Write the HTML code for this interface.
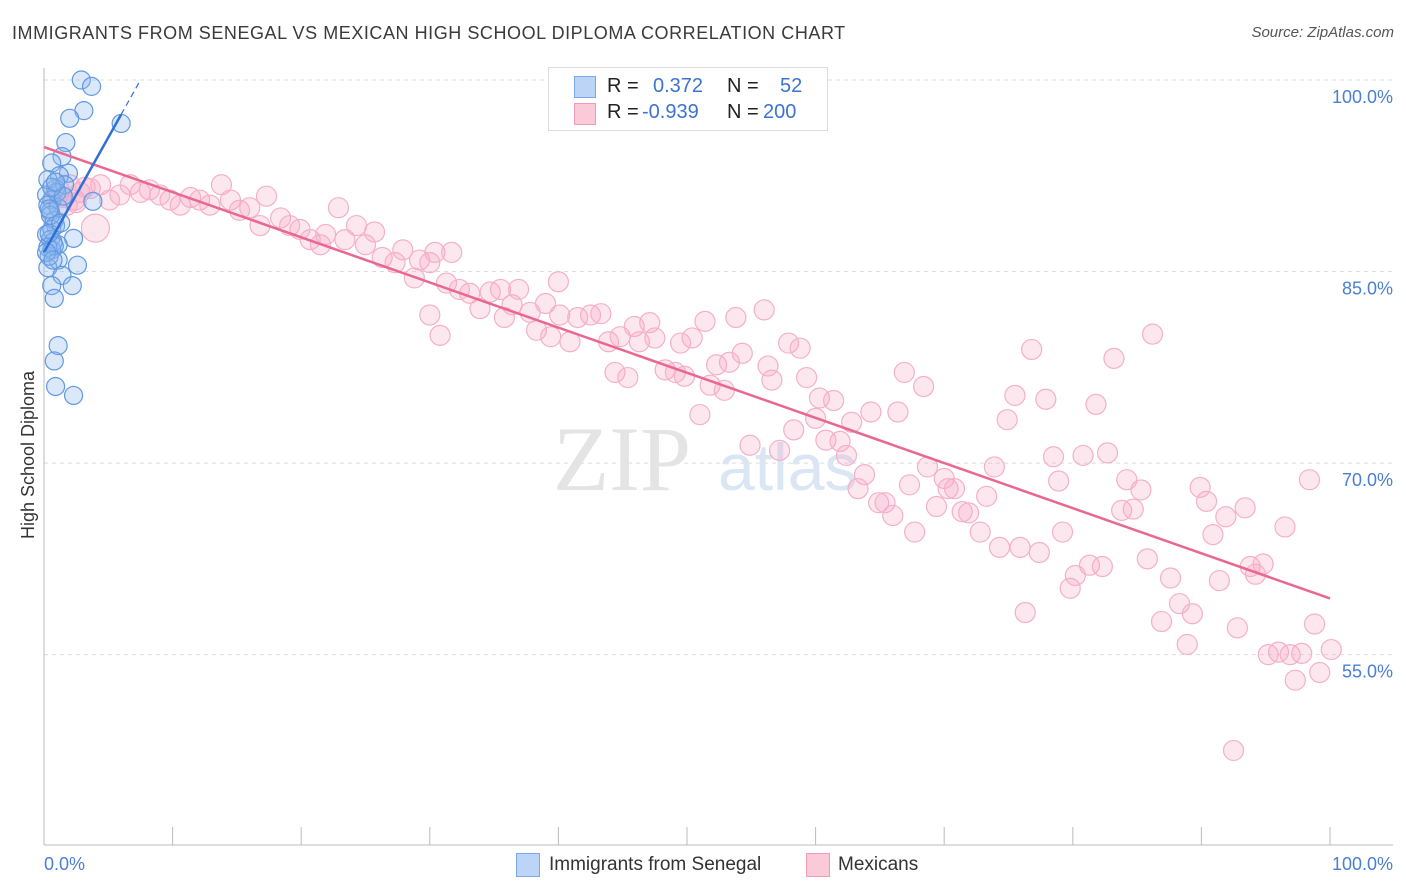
<!DOCTYPE html>
<html><head><meta charset="utf-8"><style>
body{margin:0;background:#fff;font-family:"Liberation Sans",sans-serif;}
#wrap{position:relative;width:1406px;height:892px;overflow:hidden;}
.t{position:absolute;white-space:nowrap;}
</style></head><body>
<div id="wrap">
<div class="t" style="left:12px;top:23px;font-size:18px;letter-spacing:0.55px;color:#3a3a3a;">IMMIGRANTS FROM SENEGAL VS MEXICAN HIGH SCHOOL DIPLOMA CORRELATION CHART</div>
<div class="t" style="right:12px;top:24px;font-size:15px;color:#555;font-style:italic;">Source: ZipAtlas.com</div>
<svg id="svg" width="1406" height="892" style="position:absolute;left:0;top:0"></svg>
</div>
<script>
const blueX=[2.9,3.7,3.1,2.0,6.0,1.7,1.4,0.6,1.9,1.2,0.9,0.2,0.6,3.8,0.3,0.5,0.8,0.9,0.6,0.2,2.3,0.5,1.1,0.6,1.1,2.6,0.3,1.4,2.2,0.6,0.8,1.1,0.8,0.9,2.3,1.6,1.1,0.3,0.4,0.7,1.0,0.5,0.3,0.8,1.5,0.4,0.6,0.2,1.3,0.7,0.9,0.4];
const blueY=[100.0,99.5,97.6,97.0,96.6,95.1,94.0,93.5,92.7,92.5,91.5,91.0,90.6,90.5,90.2,89.7,89.0,88.6,88.3,87.9,87.6,87.5,87.1,86.7,85.9,85.5,85.3,84.7,83.9,83.9,82.9,79.2,78.0,76.0,75.3,91.8,90.0,92.2,86.2,87.3,91.2,89.4,86.9,87.0,90.9,88.0,91.6,86.5,88.8,85.9,92.0,89.9];
const pinkX=[1.2,2.0,2.8,3.6,4.4,2.4,4.0,5.1,5.9,6.7,7.5,8.2,9.0,9.8,10.6,11.4,12.1,12.9,13.8,14.5,15.2,16.0,16.8,17.3,18.4,19.1,19.9,20.7,21.5,21.9,22.9,23.4,24.3,25.0,25.7,26.3,27.3,27.9,28.8,29.2,30.0,30.4,31.7,30.0,30.8,31.3,32.3,33.1,33.9,34.7,35.5,35.8,36.4,36.9,37.8,38.3,39.0,39.4,40.0,40.1,40.9,41.5,42.5,43.3,43.9,44.4,44.8,45.4,45.9,46.3,47.1,47.5,48.3,49.1,49.5,49.8,50.4,51.0,51.4,51.8,52.3,52.9,53.3,53.8,54.3,54.9,56.0,56.3,56.6,57.2,57.9,58.3,58.8,59.3,60.0,60.3,60.8,61.4,61.9,62.4,62.8,63.3,63.8,64.3,64.9,65.4,66.0,66.4,66.9,67.3,67.7,68.4,68.7,69.4,70.0,70.3,70.8,71.4,71.9,72.8,73.3,73.9,74.3,74.9,75.5,75.9,76.3,76.8,77.4,77.9,78.5,78.9,79.2,79.8,80.2,80.8,81.3,81.8,82.3,82.7,83.2,83.8,84.2,84.7,85.3,85.8,86.2,86.9,87.6,88.3,88.9,89.3,89.9,90.4,90.9,91.4,91.9,92.5,92.8,93.4,93.8,94.2,94.8,95.2,96.0,96.5,96.9,97.3,97.8,98.4,98.8,99.2,100.1,1.5,2.5,3.2,0.8,1.8];
const pinkY=[91.4,91.8,91.2,91.5,91.8,90.6,88.4,90.6,91.0,91.8,91.2,91.4,91.0,90.6,90.2,90.8,90.6,90.2,91.8,90.6,89.8,90.0,88.6,90.9,89.2,88.6,88.3,87.5,87.1,87.9,90.0,87.5,88.6,87.1,88.1,86.1,85.7,86.7,84.5,85.9,85.7,86.5,86.5,81.6,80.0,84.1,83.6,83.3,82.1,83.4,83.6,81.4,82.4,83.6,81.8,80.4,82.5,79.9,84.2,81.6,79.5,81.4,81.6,81.7,79.5,77.1,79.9,76.7,80.7,79.5,81.0,79.8,77.3,77.1,79.4,76.8,79.8,73.8,81.1,76.1,77.7,75.7,77.9,81.4,78.6,71.4,82.0,77.6,76.5,71.0,79.4,72.6,79.0,76.7,73.5,75.1,71.8,74.9,71.7,70.6,73.2,68.0,69.1,74.0,66.9,66.9,65.9,74.0,77.1,68.3,64.6,76.0,69.7,66.6,68.8,68.0,68.0,66.2,66.1,64.6,67.4,69.7,63.4,73.4,75.3,63.4,58.3,78.9,63.0,75.0,70.5,68.6,64.6,60.2,61.2,70.6,62.0,74.6,61.9,70.8,78.2,66.3,68.7,66.4,67.9,62.5,80.1,57.6,61.0,59.0,55.8,58.2,68.1,67.0,64.4,60.8,65.8,47.5,57.1,66.5,61.9,61.3,62.1,55.0,55.2,65.0,55.0,53.0,55.1,68.7,57.4,53.6,55.4,90.8,90.4,91.6,90.9,90.2];
const pinkBig=[6];
const yTicks=[100,85,70,55];
const xTickVals=[0,10,20,30,40,50,60,70,80,90,100];
const blueLine=[0,86.5,7.5,100];
const pinkLine=[0,94.75,100,59.4];

const X0=44,X1=1330,Y100=80,PPY=12.77;
const sx=v=>X0+(X1-X0)*v/100;
const sy=v=>Y100+(100-v)*PPY;
const svg=document.getElementById('svg');
const NS='http://www.w3.org/2000/svg';
function mk(tag,attrs){const e=document.createElementNS(NS,tag);for(const k in attrs)e.setAttribute(k,attrs[k]);svg.appendChild(e);return e;}

yTicks.forEach(v=>{
 const g=mk('line',{x1:44,x2:1393,y1:sy(v),y2:sy(v),stroke:'#dcdcdc','stroke-dasharray':'4,4'});
 
 
 const t=mk('text',{x:1393,y:sy(v)+23,'text-anchor':'end','font-size':18,fill:'#4a7fd4','font-family':'Liberation Sans, sans-serif'});
 t.textContent=v.toFixed(1)+'%';
 
 
});
const ax=mk('line',{x1:44,x2:1393,y1:845,y2:845,stroke:'#bbb'});


const ay=mk('line',{x1:44,x2:44,y1:68,y2:845,stroke:'#bbb'});


xTickVals.forEach(v=>{
 const tk=mk('line',{x1:sx(v),x2:sx(v),y1:827,y2:845,stroke:'#bbb'});
 
 
});
[['0.0%',44,'start'],['100.0%',1393,'end']].forEach(a=>{
 const t=mk('text',{x:a[1],y:870,'text-anchor':a[2],'font-size':18,fill:'#4a7fd4','font-family':'Liberation Sans, sans-serif'});
 t.textContent=a[0];
 
 
});
const yt=mk('text',{x:34,y:455,'text-anchor':'middle','font-size':18,fill:'#333',transform:'rotate(-90 34 455)','font-family':'Liberation Sans, sans-serif'});
yt.textContent='High School Diploma';


const wm=mk('text',{x:553,y:490,'font-size':92,fill:'#e4e4e4','font-family':'Liberation Serif, serif'});
wm.textContent='ZIP';


const wm2=mk('text',{x:718,y:490,'font-size':66,fill:'#dbe6f5','font-family':'Liberation Sans, sans-serif'});
wm2.textContent='atlas';


pinkX.forEach((v,i)=>{
 const c=mk('circle',{cx:sx(v),cy:sy(pinkY[i]),r:pinkBig.includes(i)?14:10,fill:'rgba(247,170,198,0.28)',stroke:'#f5afc6','stroke-width':1.2});
 
 
});
blueX.forEach((v,i)=>{
 const c=mk('circle',{cx:sx(v),cy:sy(blueY[i]),r:9,fill:'rgba(140,182,240,0.32)',stroke:'#6198e0','stroke-width':1.2});
 
 
});
const pl=mk('line',{x1:sx(pinkLine[0]),y1:sy(pinkLine[1]),x2:sx(pinkLine[2]),y2:sy(pinkLine[3]),stroke:'#e8688f','stroke-width':2.5});


const bs=(blueLine[3]-blueLine[1])/(blueLine[2]-blueLine[0]);
const bmid=6.0;
const bl=mk('line',{x1:sx(blueLine[0]),y1:sy(blueLine[1]),x2:sx(bmid),y2:sy(blueLine[1]+bs*bmid),stroke:'#2f6fd6','stroke-width':2.5});


const bd=mk('line',{x1:sx(bmid),y1:sy(blueLine[1]+bs*bmid),x2:sx(blueLine[2]),y2:sy(blueLine[3]),stroke:'#2f6fd6','stroke-width':1.2,'stroke-dasharray':'6,4'});


</script>
<div style="position:absolute;left:548px;top:67px;width:278px;height:62px;border:1px solid #ddd;background:#fff;font-size:20px;">
 <div style="position:absolute;left:25px;top:8px;width:20px;height:20px;background:#bcd5f7;border:1px solid #7aa8e8;"></div>
 <div class="t" style="left:58px;top:7px;color:#222;">R =</div>
 <div class="t" style="left:104px;top:7px;color:#3b73d1;">0.372</div>
 <div class="t" style="left:178px;top:7px;color:#222;">N =</div>
 <div class="t" style="left:231px;top:7px;color:#3b73d1;">52</div>
 <div style="position:absolute;left:25px;top:35px;width:20px;height:20px;background:#fbcad9;border:1px solid #f09ab5;"></div>
 <div class="t" style="left:58px;top:33px;color:#222;">R =</div>
 <div class="t" style="left:93px;top:33px;color:#3b73d1;">-0.939</div>
 <div class="t" style="left:178px;top:33px;color:#222;">N =</div>
 <div class="t" style="left:214px;top:33px;color:#3b73d1;">200</div>
</div>
<div style="position:absolute;left:516px;top:855px;">
 <div style="position:absolute;left:0;top:-2px;width:22px;height:22px;background:#bcd5f7;border:1px solid #7aa8e8;"></div>
 <div class="t" style="left:33px;top:-1px;font-size:19px;color:#333;">Immigrants from Senegal</div>
</div>
<div style="position:absolute;left:806px;top:855px;">
 <div style="position:absolute;left:0;top:-2px;width:22px;height:22px;background:#fbcad9;border:1px solid #f09ab5;"></div>
 <div class="t" style="left:32px;top:-1px;font-size:19px;color:#333;">Mexicans</div>
</div>
</body></html>
